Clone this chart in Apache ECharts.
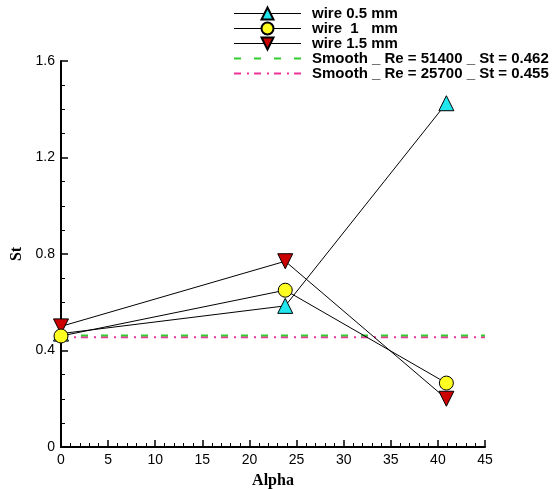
<!DOCTYPE html>
<html>
<head>
<meta charset="utf-8">
<script src="https://cdn.jsdelivr.net/npm/echarts@6/dist/echarts.min.js"></script>
<style>
  html, body { margin: 0; padding: 0; background: #fff; }
  #chart { width: 553px; height: 489px; }
</style>
</head>
<body>
<div id="chart"></div>
<script>
// values
var alpha = [0, 23.8, 40.9];
var wire05 = [0.47, 0.585, 1.425];
var wire1 = [0.46, 0.65, 0.265];
var wire15 = [0.50, 0.77, 0.20];
var smoothRange = [0, 45];
var smooth51400 = 0.462;
var smooth25700 = 0.455;
var names = [
  'wire 0.5 mm',
  'wire  1   mm',
  'wire 1.5 mm',
  'Smooth _ Re = 51400 _ St = 0.462',
  'Smooth _ Re = 25700 _ St = 0.455'
];

function pairs(xs, ys) {
  return xs.map(function (x, i) { return [x, ys[i]]; });
}

var chart = echarts.init(document.getElementById('chart'), null, { renderer: 'canvas' });

var axisText = { color: '#000', fontFamily: 'Liberation Sans, Arial', fontSize: 14 };
var titleText = { color: '#000', fontFamily: 'Liberation Serif, Times New Roman', fontSize: 16, fontWeight: 'bold' };
// dashed legend rows: line only, hide the marker
var noMarker = { color: 'transparent', borderColor: 'transparent', borderWidth: 0 };
var thinLine = { width: 1 };

chart.setOption({
  backgroundColor: '#ffffff',
  animation: false,
  grid: { left: 61, right: 68, top: 61, bottom: 42, outerBoundsMode: 'none', containLabel: false },
  legend: {
    orient: 'vertical',
    left: 228,
    top: 1,
    itemWidth: 67,
    itemHeight: 15,
    itemGap: 0,
    textStyle: { color: '#000', fontFamily: 'Liberation Sans, Arial', fontSize: 15, fontWeight: 'bold', padding: [0, 0, 0, 6] },
    data: [
      { name: names[0], lineStyle: thinLine },
      { name: names[1], lineStyle: thinLine },
      { name: names[2], lineStyle: thinLine },
      { name: names[3], itemStyle: noMarker },
      { name: names[4], itemStyle: noMarker }
    ]
  },
  xAxis: {
    type: 'value',
    min: 0,
    max: 45,
    interval: 5,
    name: 'Alpha',
    nameLocation: 'middle',
    nameGap: 26,
    nameTextStyle: titleText,
    axisLine: { onZero: false, lineStyle: { color: '#000', width: 2 } },
    axisTick: { inside: true, length: 7, lineStyle: { color: '#000', width: 1.5 } },
    minorTick: { show: true, splitNumber: 5, length: 4, lineStyle: { color: '#000' } },
    axisLabel: Object.assign({ margin: 6 }, axisText),
    splitLine: { show: false }
  },
  yAxis: {
    type: 'value',
    min: 0,
    max: 1.6,
    interval: 0.4,
    name: 'St',
    nameLocation: 'middle',
    nameGap: 32,
    nameRotate: 90,
    nameTextStyle: titleText,
    axisLine: { show: true, onZero: false, lineStyle: { color: '#000', width: 2 } },
    axisTick: { show: true, inside: true, length: 7, lineStyle: { color: '#000', width: 1.5 } },
    minorTick: { show: true, splitNumber: 4, length: 4, lineStyle: { color: '#000' } },
    axisLabel: Object.assign({ margin: 6, formatter: function (v) { return v === 0 ? '0' : String(v); } }, axisText),
    splitLine: { show: false }
  },
  series: [
    {
      name: names[4],
      type: 'line',
      data: pairs(smoothRange, [smooth25700, smooth25700]),
      symbol: 'none',
      lineStyle: { color: '#ee3399', width: 2, type: [7, 6, 2, 5] },
      itemStyle: { color: '#ee3399' },
      z: 1
    },
    {
      name: names[3],
      type: 'line',
      data: pairs(smoothRange, [smooth51400, smooth51400]),
      symbol: 'none',
      lineStyle: { color: '#33cc33', width: 2, type: [7, 13] },
      itemStyle: { color: '#33cc33' },
      z: 2
    },
    {
      name: names[0],
      type: 'line',
      data: pairs(alpha, wire05),
      symbol: 'triangle',
      symbolSize: 15,
      lineStyle: { color: '#000', width: 1 },
      itemStyle: { color: '#22e6ee', borderColor: '#000', borderWidth: 1 },
      z: 3
    },
    {
      name: names[1],
      type: 'line',
      data: pairs(alpha, wire1),
      symbol: 'circle',
      symbolSize: 14,
      lineStyle: { color: '#000', width: 1 },
      itemStyle: { color: '#ffff22', borderColor: '#000', borderWidth: 1 },
      z: 4
    },
    {
      name: names[2],
      type: 'line',
      data: pairs(alpha, wire15),
      symbol: 'triangle',
      symbolRotate: 180,
      symbolSize: 15,
      lineStyle: { color: '#000', width: 1 },
      itemStyle: { color: '#cc0000', borderColor: '#000', borderWidth: 1 },
      z: 3
    }
  ]
});
</script>
</body>
</html>
